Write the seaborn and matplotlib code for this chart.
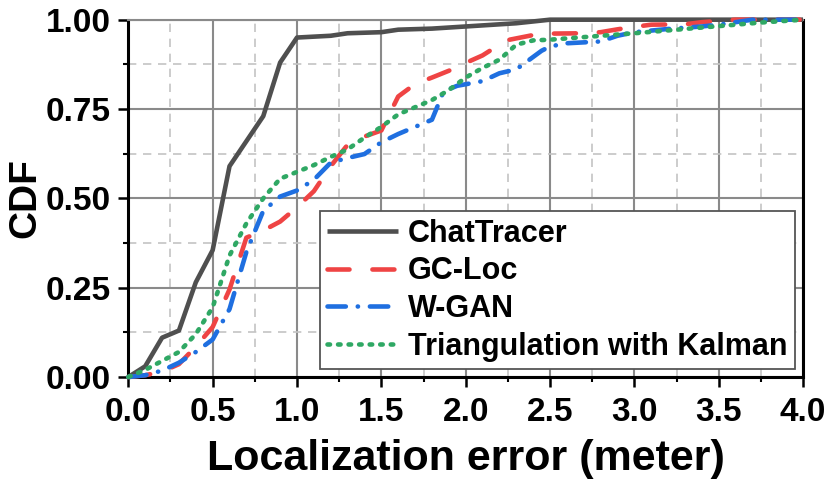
import matplotlib
matplotlib.use("Agg")
import matplotlib.pyplot as plt
from matplotlib.ticker import MultipleLocator
import seaborn as sns
import pandas as pd

# ---- data ----
chat_x = [0, 0.1, 0.2, 0.3, 0.4, 0.5, 0.6, 0.7, 0.8, 0.9, 1.0, 1.2, 1.3, 1.5, 1.6, 1.8, 2.0, 2.3, 2.5, 3.0, 4.0]
chat_y = [0, 0.03, 0.11, 0.13, 0.265, 0.355, 0.59, 0.66, 0.73, 0.88, 0.95, 0.955, 0.962, 0.965, 0.972, 0.975, 0.981, 0.99, 1.0, 1.0, 1.0]

gc_x = [0, 0.1, 0.2, 0.3, 0.4, 0.5, 0.6, 0.7, 0.8, 0.9, 1.0, 1.1, 1.2, 1.3, 1.4, 1.5, 1.6, 1.7, 1.8, 1.9,
        2.0, 2.1, 2.2, 2.25, 2.4, 2.5, 2.7, 2.8, 2.9, 3.0, 3.1, 3.3, 3.4, 3.6, 4.0]
gc_y = [0, 0.005, 0.015, 0.036, 0.085, 0.14, 0.245, 0.39, 0.41, 0.435, 0.475, 0.52, 0.59, 0.65, 0.673, 0.69,
        0.785, 0.82, 0.838, 0.857, 0.879, 0.90, 0.93, 0.943, 0.957, 0.961, 0.962, 0.965, 0.973, 0.98, 0.986,
        0.987, 0.993, 1.0, 1.0]

wgan_x = [0, 0.1, 0.2, 0.3, 0.4, 0.5, 0.6, 0.7, 0.8, 0.9, 1.0, 1.1, 1.2, 1.3, 1.4, 1.5, 1.6, 1.8, 1.87,
          1.95, 2.1, 2.2, 2.3, 2.45, 2.5, 2.6, 2.8, 2.9, 3.0, 3.2, 3.4, 3.5, 3.6, 3.7, 4.0]
wgan_y = [0, 0.005, 0.018, 0.04, 0.07, 0.105, 0.19, 0.35, 0.465, 0.505, 0.522, 0.552, 0.60, 0.613, 0.624,
          0.657, 0.68, 0.72, 0.80, 0.815, 0.828, 0.85, 0.861, 0.913, 0.925, 0.934, 0.939, 0.955, 0.965,
          0.974, 0.981, 0.986, 0.993, 1.0, 1.0]

tri_x = [0, 0.1, 0.2, 0.3, 0.4, 0.5, 0.6, 0.7, 0.8, 0.9, 1.0, 1.1, 1.2, 1.3, 1.4, 1.5, 1.6, 1.7, 1.8, 1.9,
         2.0, 2.1, 2.2, 2.3, 2.4, 2.5, 2.75, 3.0, 3.25, 3.5, 3.75, 4.0]
tri_y = [0, 0.02, 0.045, 0.07, 0.12, 0.195, 0.34, 0.43, 0.50, 0.555, 0.574, 0.593, 0.616, 0.637, 0.67,
         0.70, 0.735, 0.755, 0.775, 0.803, 0.838, 0.865, 0.888, 0.93, 0.942, 0.944, 0.953, 0.962, 0.972,
         0.982, 0.992, 1.0]

labels = ["ChatTracer", "GC-Loc", "W-GAN", "Triangulation with Kalman"]
x_ticks = [0.0, 0.5, 1.0, 1.5, 2.0, 2.5, 3.0, 3.5, 4.0]
y_ticks = [0.00, 0.25, 0.50, 0.75, 1.00]

# ---- style ----
sns.set_theme(style="white")
plt.rcParams["font.family"] = ["Liberation Sans", "DejaVu Sans"]
plt.rcParams["font.weight"] = "bold"
plt.rcParams["text.color"] = "black"
plt.rcParams["axes.labelcolor"] = "black"
plt.rcParams["xtick.color"] = "black"
plt.rcParams["ytick.color"] = "black"

colors = ["#4f4f4f", "#ef4444", "#1f6fe0", "#2fa864"]
styles = [
    "-",
    (0, (4.8, 5.0)),
    (0, (4.0, 2.6, 0.05, 2.6)),
    (0, (0.55, 1.75)),
]

series = [(chat_x, chat_y), (gc_x, gc_y), (wgan_x, wgan_y), (tri_x, tri_y)]

fig, ax = plt.subplots(figsize=(8.3, 4.92), dpi=100)
fig.subplots_adjust(left=0.1546, right=0.9675, bottom=0.2337, top=0.960)

for (xs, ys), lab, c, ls in zip(series, labels, colors, styles):
    df = pd.DataFrame({"x": xs, "y": ys})
    sns.lineplot(data=df, x="x", y="y", ax=ax, color=c, lw=3.3, label=lab,
                 estimator=None, sort=False, linestyle=ls,
                 dash_capstyle="round", solid_capstyle="butt", zorder=3, clip_on=False)

ax.set_xlim(0, 4)
ax.set_ylim(0, 1)
ax.set_xticks(x_ticks)
ax.set_yticks(y_ticks)
ax.set_xticklabels([f"{v:.1f}" for v in x_ticks])
ax.set_yticklabels([f"{v:.2f}" for v in y_ticks])
ax.xaxis.set_minor_locator(MultipleLocator(0.25))
ax.yaxis.set_minor_locator(MultipleLocator(0.125))

ax.grid(which="major", color="#8a8a8a", lw=1.5, ls="-", zorder=0)
ax.grid(which="minor", color="#c4c4c4", lw=1.2, ls=(0, (5, 4)), zorder=0)
ax.set_axisbelow(True)

for side in ["left", "bottom", "right"]:
    ax.spines[side].set_color("black")
    ax.spines[side].set_linewidth(2.2)
ax.spines["top"].set_color("#8a8a8a")
ax.spines["top"].set_linewidth(1.5)

ax.tick_params(axis="both", which="major", direction="out", length=7.5, width=1.8,
               color="black", labelcolor="black", labelsize=24, bottom=True, left=True)
ax.tick_params(axis="y", which="major", pad=5)
ax.tick_params(axis="x", which="major", pad=7)
ax.tick_params(axis="both", which="minor", direction="out", length=3.8, width=1.5,
               color="black", bottom=True, left=True)
for lbl in ax.get_xticklabels() + ax.get_yticklabels():
    lbl.set_fontweight("bold")

ax.set_xlabel("Localization error (meter)", fontsize=31, fontweight="bold", labelpad=8, color="black")
ax.set_ylabel("CDF", fontsize=28, fontweight="bold", labelpad=2, color="black")

leg = ax.legend(loc="lower right", fontsize=22, frameon=True, fancybox=False,
                edgecolor="#555555", framealpha=1, handlelength=2.3, handletextpad=0.35,
                labelspacing=0.25, borderpad=0.25, borderaxespad=0.25)
leg.get_frame().set_linewidth(1.3)
for t in leg.get_texts():
    t.set_fontweight("bold")
    t.set_color("black")
leg.set_zorder(5)

fig.savefig("out.png", dpi=100)
